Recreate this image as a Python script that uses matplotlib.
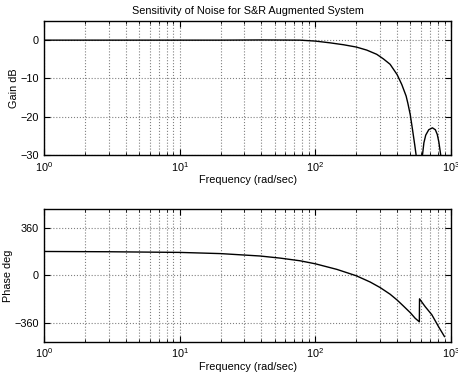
import matplotlib
matplotlib.use("Agg")
import matplotlib.pyplot as plt
from matplotlib.ticker import LogLocator, FixedLocator, NullFormatter

plt.rcParams['font.family'] = ['Liberation Sans', 'DejaVu Sans']
plt.rcParams['axes.unicode_minus'] = True

title = "Sensitivity of Noise for S&R Augmented System"
xlabel = "Frequency (rad/sec)"

gain_freq = [1, 2, 5, 10, 20, 40, 77, 100, 128, 161, 200, 239, 283, 317, 355, 400, 433, 466,
             480, 500, 520, 540, 552, 560, 585, 605, 615, 630, 650, 684, 728, 765, 790, 812, 838, 845]
gain_db = [0, 0, 0, 0, 0, 0.05, 0, -0.25, -0.7, -1.2, -1.8, -2.6, -3.7, -4.9, -6.3, -9.0, -11.6, -14.6,
           -16.5, -19.5, -23.5, -27.5, -30, -35, -50, -35, -30, -26.8, -24.8, -23.4, -22.9, -23.4, -24.6,
           -26.6, -30, -32]

phase_freq = [1, 3, 10, 20, 39, 55, 77, 100, 144, 200, 253, 300, 355, 400, 445, 500, 543, 583,
              585, 643, 721, 806, 893]
phase_deg = [180, 178, 173, 164, 146, 130, 110, 87, 45, -3, -50, -92, -142, -186, -231, -281, -323, -350,
             -177, -235, -297, -385, -461]

gain_ticks = [-30, -20, -10, 0]
phase_ticks = [-360, 0, 360]

fs = 7.8
fig = plt.figure(figsize=(4.58, 3.79), dpi=100)
ax1 = fig.add_axes([0.096, 0.591, 0.889, 0.3536])
ax2 = fig.add_axes([0.096, 0.0984, 0.889, 0.3501])

for ax in (ax1, ax2):
    ax.set_xscale('log')
    ax.set_xlim(1, 1000)
    ax.xaxis.set_major_locator(LogLocator(base=10, numticks=10))
    ax.xaxis.set_minor_locator(LogLocator(base=10, subs=range(2, 10), numticks=20))
    ax.xaxis.set_minor_formatter(NullFormatter())
    ax.grid(True, which='both', axis='x', linestyle=':', color='0.5', linewidth=0.8)
    ax.grid(True, which='major', axis='y', linestyle=':', color='0.5', linewidth=0.8)
    ax.tick_params(which='both', direction='in', top=True, right=True, labelsize=fs)
    ax.tick_params(which='major', length=4)
    ax.tick_params(which='minor', length=2)
    for s in ax.spines.values():
        s.set_linewidth(1.0)
    ax.set_xlabel(xlabel, fontsize=fs, labelpad=1)

ax1.plot(gain_freq, gain_db, color='black', linewidth=1.0)
ax1.set_ylim(-30, 5)
ax1.yaxis.set_major_locator(FixedLocator(gain_ticks))
ax1.set_ylabel("Gain dB", fontsize=fs, labelpad=1)
ax1.set_title(title, fontsize=fs, pad=5)

ax2.plot(phase_freq, phase_deg, color='black', linewidth=1.0)
ax2.set_ylim(-500, 500)
ax2.yaxis.set_major_locator(FixedLocator(phase_ticks))
ax2.set_ylabel("Phase deg", fontsize=fs, labelpad=1)

fig.savefig("out.png", dpi=100)
